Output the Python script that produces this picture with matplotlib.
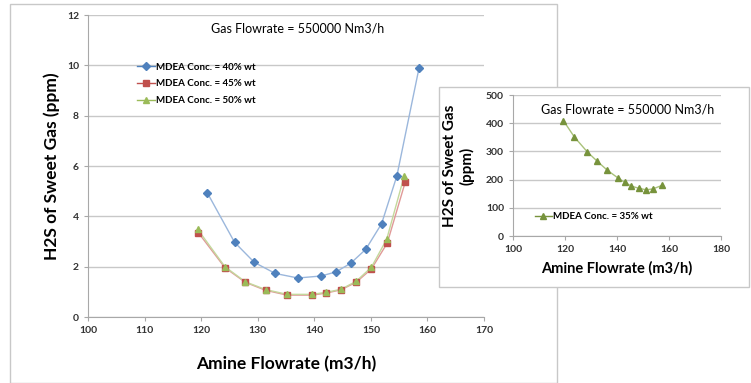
import matplotlib.pyplot as plt
from matplotlib.patches import Rectangle

# 40% wt MDEA (blue diamonds)
flow_40 = [121.1, 125.9, 129.4, 133.1, 137.1, 141.2, 143.8, 146.4, 149.1, 151.9, 154.6, 158.5]
h2s_40 = [4.93, 2.97, 2.17, 1.73, 1.55, 1.63, 1.79, 2.13, 2.69, 3.71, 5.61, 9.88]

# 45% wt MDEA (red squares)
flow_45 = [119.5, 124.2, 127.8, 131.4, 135.2, 139.6, 142.1, 144.7, 147.4, 150.1, 152.9, 156.1]
h2s_45 = [3.35, 1.96, 1.38, 1.06, 0.87, 0.87, 0.95, 1.08, 1.38, 1.91, 2.94, 5.38]

# 50% wt MDEA (green triangles)
flow_50 = [119.4, 124.2, 127.8, 131.4, 135.2, 139.6, 142.1, 144.7, 147.4, 150.1, 152.8, 155.9]
h2s_50 = [3.48, 2.00, 1.40, 1.09, 0.90, 0.90, 0.98, 1.10, 1.42, 1.98, 3.09, 5.61]

# 35% wt MDEA (inset)
flow_35 = [119.4, 123.6, 128.6, 132.4, 136.3, 140.5, 143.0, 145.5, 148.5, 151.2, 153.8, 157.4]
h2s_35 = [409, 351, 298, 265, 233, 205, 190, 177, 169, 164, 167, 180]

title = "Gas Flowrate = 550000 Nm3/h"
blue, red, green = "#4F81BD", "#C0504D", "#9BBB59"
grid_c = "#c8c8c8"

plt.rcParams['font.family'] = ['Lato', 'DejaVu Sans']


def style_axes(ax):
    for s in ['top', 'right']:
        ax.spines[s].set_visible(False)
    for s in ['left', 'bottom']:
        ax.spines[s].set_color("#a8a8a8")
    ax.yaxis.grid(True, color=grid_c, linewidth=1.0)
    ax.set_axisbelow(True)
    ax.tick_params(colors="#a8a8a8", labelcolor="#333333", length=3, labelsize=7.5)
    for lab in ax.get_xticklabels() + ax.get_yticklabels():
        lab.set_fontweight('bold')


fig = plt.figure(figsize=(7.51, 3.83), dpi=100)

# outer frame of main chart
fig.patches.append(Rectangle((0.0133, 0.0), 0.728, 0.9896, transform=fig.transFigure,
                             fill=False, edgecolor="#c8c8c8", linewidth=1.0, zorder=0))

ax = fig.add_axes([0.1172, 0.1723, 0.5273, 0.7885])
ax.plot(flow_40, h2s_40, '-', color="#9bb7dc", linewidth=1.0)
ax.plot(flow_45, h2s_45, '-', color="#e09a98", linewidth=1.0)
ax.plot(flow_50, h2s_50, '-', color="#c4d89c", linewidth=1.0)
ax.plot(flow_40, h2s_40, 'D', color=blue, markersize=4)
ax.plot(flow_45, h2s_45, 's', color=red, markersize=4.5)
ax.plot(flow_50, h2s_50, '^', color=green, markersize=4.5)
# legend proxies
ax.plot([], [], '-D', color=blue, markersize=4, linewidth=1.0, label="MDEA Conc. = 40% wt")
ax.plot([], [], '-s', color=red, markersize=4.5, linewidth=1.0, label="MDEA Conc. = 45% wt")
ax.plot([], [], '-^', color=green, markersize=4.5, linewidth=1.0, label="MDEA Conc. = 50% wt")
ax.set_xlim(100, 170)
ax.set_ylim(0, 12)
ax.set_xticks(range(100, 171, 10))
ax.set_yticks(range(0, 13, 2))
style_axes(ax)
ax.set_xlabel("Amine Flowrate (m3/h)", fontsize=12.5, fontweight='bold', labelpad=15)
ax.set_ylabel("H2S of Sweet Gas (ppm)", fontsize=12.5, fontweight='bold', labelpad=5)
ax.text(0.53, 0.955, title, transform=ax.transAxes, ha='center', va='center', fontsize=9)
ax.legend(loc='upper left', bbox_to_anchor=(0.115, 0.855), frameon=False,
          handlelength=1.8, handletextpad=0.1, labelspacing=0.8, borderaxespad=0,
          prop={'weight': 'bold', 'size': 7})

# inset frame with white background
fig.patches.append(Rectangle((0.5846, 0.2507), 0.413, 0.5221, transform=fig.transFigure,
                             facecolor="white", edgecolor="#c8c8c8", linewidth=1.0, zorder=2))

ax2 = fig.add_axes([0.6831, 0.3838, 0.2770, 0.3681], zorder=3)
ax2.patch.set_alpha(0)
ax2.plot(flow_35, h2s_35, '-', color="#a9c27a", linewidth=1.0)
ax2.plot(flow_35, h2s_35, '^', color="#77933C", markersize=4.5)
ax2.plot([], [], '-^', color="#77933C", markersize=4.5, linewidth=1.0, label="MDEA Conc. = 35% wt")
ax2.set_xlim(100, 180)
ax2.set_ylim(0, 500)
ax2.set_xticks(range(100, 181, 20))
ax2.set_yticks(range(0, 501, 100))
style_axes(ax2)
ax2.set_xlabel("Amine Flowrate (m3/h)", fontsize=10.5, fontweight='bold', labelpad=5)
ax2.set_ylabel("H2S of Sweet Gas\n(ppm)", fontsize=11, fontweight='bold', labelpad=8)
ax2.text(0.55, 0.9, title, transform=ax2.transAxes, ha='center', va='center', fontsize=9)
ax2.legend(loc='center left', bbox_to_anchor=(0.085, 0.135), frameon=False,
           handlelength=1.8, handletextpad=0.1, borderaxespad=0,
           prop={'weight': 'bold', 'size': 7})

fig.savefig("out.png", dpi=100)
